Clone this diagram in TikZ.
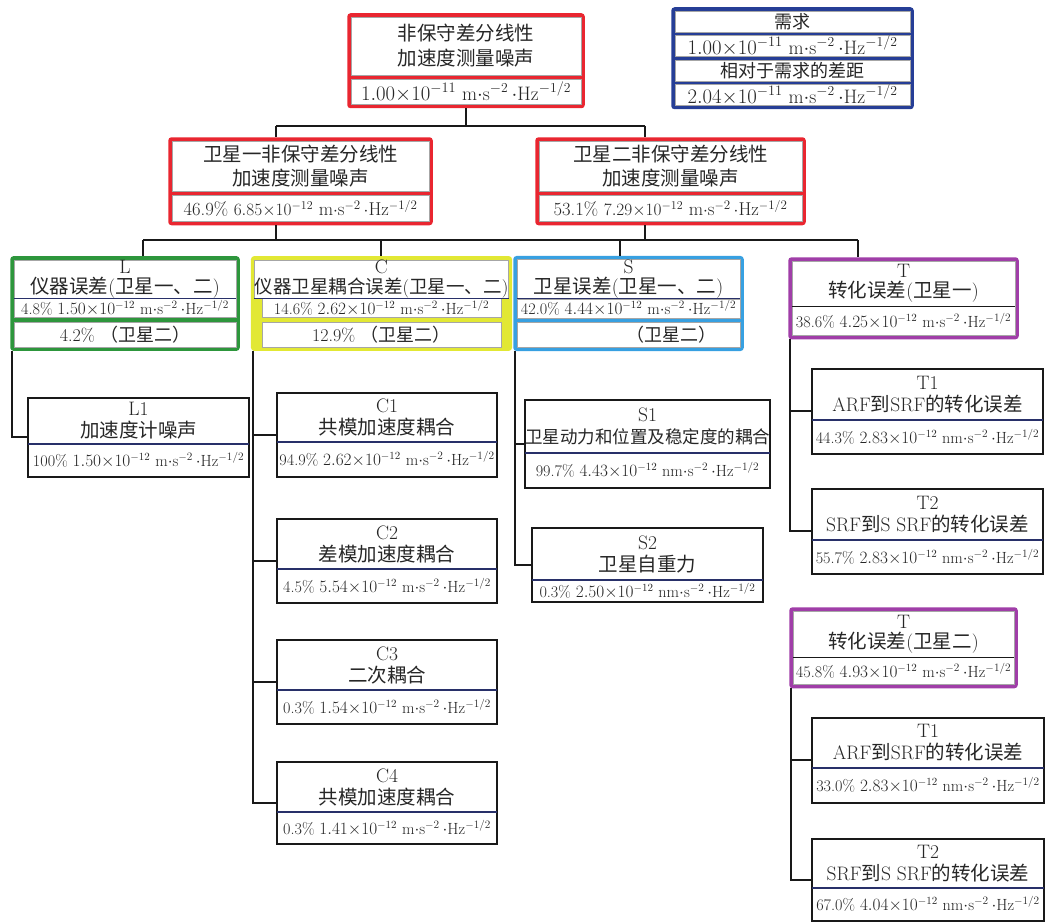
\documentclass[tikz,border=0pt]{standalone}
\usepackage{fontspec}
\usepackage{amsmath}
\usetikzlibrary{positioning,fit,backgrounds}
\newfontfamily\zhfont{Noto Sans CJK SC}
\newcommand{\zh}[1]{{\zhfont #1}}
\newcommand{\psd}[3]{$#1{\times}10^{#2}\ \mathrm{#3{\cdot}s^{-2}}\,{\cdot}\mathrm{Hz^{-1/2}}$}
\definecolor{redbox}{RGB}{233,38,48}
\definecolor{reqblue}{RGB}{38,62,150}
\definecolor{greenbox}{RGB}{45,150,60}
\definecolor{yellowbox}{RGB}{226,232,52}
\definecolor{cyanbox}{RGB}{55,160,225}
\definecolor{purplebox}{RGB}{160,62,168}
\definecolor{navyline}{RGB}{40,48,105}

\begin{document}
\begin{tikzpicture}[x=1pt, y=-1pt,
    cell/.style={fill=white, draw=black!35, line width=0.5pt, inner sep=0pt, align=center, text=black!85},
    bare/.style={inner sep=0pt, align=center, text=black!85},
    wh/.style 2 args={minimum width=#1pt, minimum height=#2pt},
    big/.style={font=\fontsize{19.5}{22}\selectfont},
    val/.style={font=\fontsize{19.5}{22}\selectfont},
    sval/.style={font=\fontsize{18.6}{22}\selectfont},
    mid/.style={font=\fontsize{18}{22}\selectfont},
    small/.style={font=\fontsize{16.2}{19}\selectfont},
    frame/.style={inner sep=2pt, line width=3pt, rounded corners=2pt},
    plain/.style={draw=black!90, line width=2pt, inner sep=0pt},
    link/.style={draw=black!90, line width=1.6pt},
    divline/.style={draw=navyline, line width=1.5pt}]
  \useasboundingbox (0,0) rectangle (1046,923);

  % top level
  \node[cell, big, wh={230}{58}] (topA) at (466,46) {\zh{非保守差分线性}\\[3pt]\zh{加速度测量噪声}};
  \node[cell, val, wh={230}{25}, below=4pt of topA] (topB) {\psd{1.00}{-11}{m}};

  % requirement
  \node[cell, mid, wh={235}{21}] (reqA) at (792.5,21.5) {\zh{需求}};
  \node[cell, val, wh={235}{21}, below=3pt of reqA] (reqB) {\psd{1.00}{-11}{m}};
  \node[cell, mid, wh={235}{21}, below=3pt of reqB] (reqC) {\zh{相对于需求的差距}};
  \node[cell, val, wh={235}{21}, below=3pt of reqC] (reqD) {\psd{2.04}{-11}{m}};

  % satellites
  \node[cell, big, wh={257}{50}] (sat1A) at (300.5,166) {\zh{卫星一非保守差分线性}\\[2pt]\zh{加速度测量噪声}};
  \node[cell, sval, wh={257}{26}, below=4pt of sat1A] (sat1B) {46.9\% \psd{6.85}{-12}{m}};
  \node[cell, big, wh={263}{50}] (sat2A) at (670.5,166) {\zh{卫星二非保守差分线性}\\[2pt]\zh{加速度测量噪声}};
  \node[cell, sval, wh={263}{26}, below=4pt of sat2A] (sat2B) {53.1\% \psd{7.29}{-12}{m}};

  % error groups
  \node[cell, big, wh={222}{36}] (LA) at (125,279) {L\\[-2pt]\zh{仪器误差}(\zh{卫星一、二})};
  \node[cell, small, wh={222}{19}, below=0pt of LA] (LB) {4.8\% \psd{1.50}{-12}{m}};
  \node[cell, mid, wh={222}{25}, below=4pt of LB] (LC) {4.2\% \zh{（卫星二）}};

  \node[cell, big, wh={239}{36}] (CA) at (381.5,279) {C\\[-2pt]{\fontsize{18.5}{22}\selectfont\zh{仪器卫星耦合误差}(\zh{卫星一、二})}};
  \node[cell, small, wh={239}{19}, below=0pt of CA] (CB) {14.6\% \psd{2.62}{-12}{m}};
  \node[cell, mid, wh={239}{25}, below=4pt of CB] (CC) {12.9\% \zh{（卫星二）}};

  \node[cell, big, wh={223}{36}] (SA) at (628.5,279) {S\\[-2pt]\zh{卫星误差}(\zh{卫星一、二})};
  \node[cell, small, wh={223}{19}, below=0pt of SA] (SB) {42.0\% \psd{4.44}{-12}{m}};
  \node[cell, mid, wh={223}{25}, below=4pt of SB] (SC) {\hspace*{86pt}\zh{（卫星二）}};

  \node[cell, big, wh={223}{45}] (TA) at (903.5,283.5) {T\\[-2pt]\zh{转化误差}(\zh{卫星一})};
  \node[cell, small, wh={223}{29}, below=0pt of TA] (TB) {38.6\% \psd{4.25}{-12}{m}};

  \node[cell, big, wh={221}{46}] (TbA) at (903.5,634) {T\\[-2pt]\zh{转化误差}(\zh{卫星二})};
  \node[cell, small, wh={221}{27}, below=0pt of TbA] (TbB) {45.8\% \psd{4.93}{-12}{m}};

  % sources
  \node[bare, big, wh={221}{46}] (L1a) at (138.5,421) {L1\\\zh{加速度计噪声}};
  \node[bare, small, wh={221}{32}, below=0pt of L1a] (L1b) {100\% \psd{1.50}{-12}{m}};

  \node[bare, big, wh={220}{49}] (C1a) at (387,417.5) {C1\\\zh{共模加速度耦合}};
  \node[bare, small, wh={220}{34}, below=0pt of C1a] (C1b) {94.9\% \psd{2.62}{-12}{m}};
  \node[bare, big, wh={220}{50}] (C2a) at (387,544) {C2\\\zh{差模加速度耦合}};
  \node[bare, small, wh={220}{33}, below=0pt of C2a] (C2b) {4.5\% \psd{5.54}{-12}{m}};
  \node[bare, big, wh={220}{50}] (C3a) at (387,665) {C3\\\zh{二次耦合}};
  \node[bare, small, wh={220}{33}, below=0pt of C3a] (C3b) {0.3\% \psd{1.54}{-12}{m}};
  \node[bare, big, wh={220}{50}] (C4a) at (387,787) {C4\\\zh{共模加速度耦合}};
  \node[bare, small, wh={220}{31}, below=0pt of C4a] (C4b) {0.3\% \psd{1.41}{-12}{m}};

  \node[bare, big, wh={231}{53}] (S1a) at (647.5,426.5) {S1\\{\fontsize{17.5}{22}\selectfont\zh{卫星动力和位置及稳定度的耦合}}};
  \node[bare, small, wh={231}{34}, below=0pt of S1a] (S1b) {99.7\% \psd{4.43}{-12}{nm}};
  \node[bare, big, wh={231}{52}] (S2a) at (647.5,554) {S2\\\zh{卫星自重力}};
  \node[bare, small, wh={231}{21}, below=0pt of S2a] (S2b) {0.3\% \psd{2.50}{-12}{nm}};

  \node[bare, big, wh={231}{51}] (Ta1a) at (927.5,394.5) {T1\\ARF\zh{到}SRF\zh{的转化误差}};
  \node[bare, small, wh={231}{33}, below=0pt of Ta1a] (Ta1b) {44.3\% \psd{2.83}{-12}{nm}};
  \node[bare, big, wh={231}{51}] (Ta2a) at (927.5,514.5) {T2\\SRF\zh{到}S SRF\zh{的转化误差}};
  \node[bare, small, wh={231}{33}, below=0pt of Ta2a] (Ta2b) {55.7\% \psd{2.83}{-12}{nm}};

  \node[bare, big, wh={232}{50}] (Tb1a) at (928,743) {T1\\ARF\zh{到}SRF\zh{的转化误差}};
  \node[bare, small, wh={232}{34}, below=0pt of Tb1a] (Tb1b) {33.0\% \psd{2.83}{-12}{nm}};
  \node[bare, big, wh={232}{49}] (Tb2a) at (928,863.5) {T2\\SRF\zh{到}S SRF\zh{的转化误差}};
  \node[bare, small, wh={232}{32}, below=0pt of Tb2a] (Tb2b) {67.0\% \psd{4.04}{-12}{nm}};

  % coloured frames
  \begin{scope}[on background layer]
    \node[frame, draw=redbox, fill=redbox, fit=(topA)(topB)] (top) {};
    \node[frame, draw=reqblue, fill=reqblue, fit=(reqA)(reqD)] (req) {};
    \node[frame, draw=redbox, fill=redbox, fit=(sat1A)(sat1B)] (sat1) {};
    \node[frame, draw=redbox, fill=redbox, fit=(sat2A)(sat2B)] (sat2) {};
    \node[frame, draw=greenbox, fill=greenbox, fit=(LA)(LC)] (L) {};
    \node[frame, draw=yellowbox, fill=yellowbox, fit=(CA)(CC)] (C) {};
    \node[frame, draw=cyanbox, fill=cyanbox, fit=(SA)(SC)] (S) {};
    \node[frame, draw=purplebox, fill=purplebox, fit=(TA)(TB)] (T) {};
    \node[frame, draw=purplebox, fill=purplebox, fit=(TbA)(TbB)] (Tb) {};
  \end{scope}
  \foreach \bx in {L1,C1,C2,C3,C4,S1,S2,Ta1,Ta2,Tb1,Tb2}{
    \node[plain, fit=(\bx a)(\bx b)] (\bx) {};
    \draw[divline] (\bx a.south west) -- (\bx a.south east);
  }
  \foreach \g in {L,C,S}
    \draw[divline] (\g A.south west) -- (\g A.south east);
  \draw[black!90, line width=1.2pt] (TA.south west) -- (TA.south east);
  \draw[black!90, line width=1.2pt] (TbA.south west) -- (TbA.south east);

  % connectors
  \coordinate (j1) at (276,126);
  \coordinate (j2) at (645,126);
  \coordinate (k1) at (143,240);
  \coordinate (k2) at (381,240);
  \coordinate (k3) at (620,240);
  \coordinate (k4) at (858,240);
  \draw[link] (top.south) -- (top.south |- j1);
  \draw[link] (j1) -- (j2);
  \draw[link] (j1) -- (j1 |- sat1.north);
  \draw[link] (j2) -- (j2 |- sat2.north);
  \draw[link] (j1 |- sat1.south) -- (j1 |- k1);
  \draw[link] (j2 |- sat2.south) -- (j2 |- k1);
  \draw[link] (k1) -- (k4);
  \foreach \k/\g in {k1/L,k2/C,k3/S,k4/T}
    \draw[link] (\k) -- (\k |- \g.north);
  \draw[link] ([xshift=2pt]L.south west) |- (L1.west);
  \foreach \c in {C1,C2,C3,C4}
    \draw[link] ([xshift=2pt]C.south west) |- (\c.west);
  \foreach \s in {S1,S2}
    \draw[link] ([xshift=2pt]S.south west) |- (\s.west);
  \foreach \tb in {Ta1,Ta2}
    \draw[link] ([xshift=2pt]T.south west) |- (\tb.west);
  \foreach \tb in {Tb1,Tb2}
    \draw[link] ([xshift=2pt]Tb.south west) |- (\tb.west);
\end{tikzpicture}
\end{document}
